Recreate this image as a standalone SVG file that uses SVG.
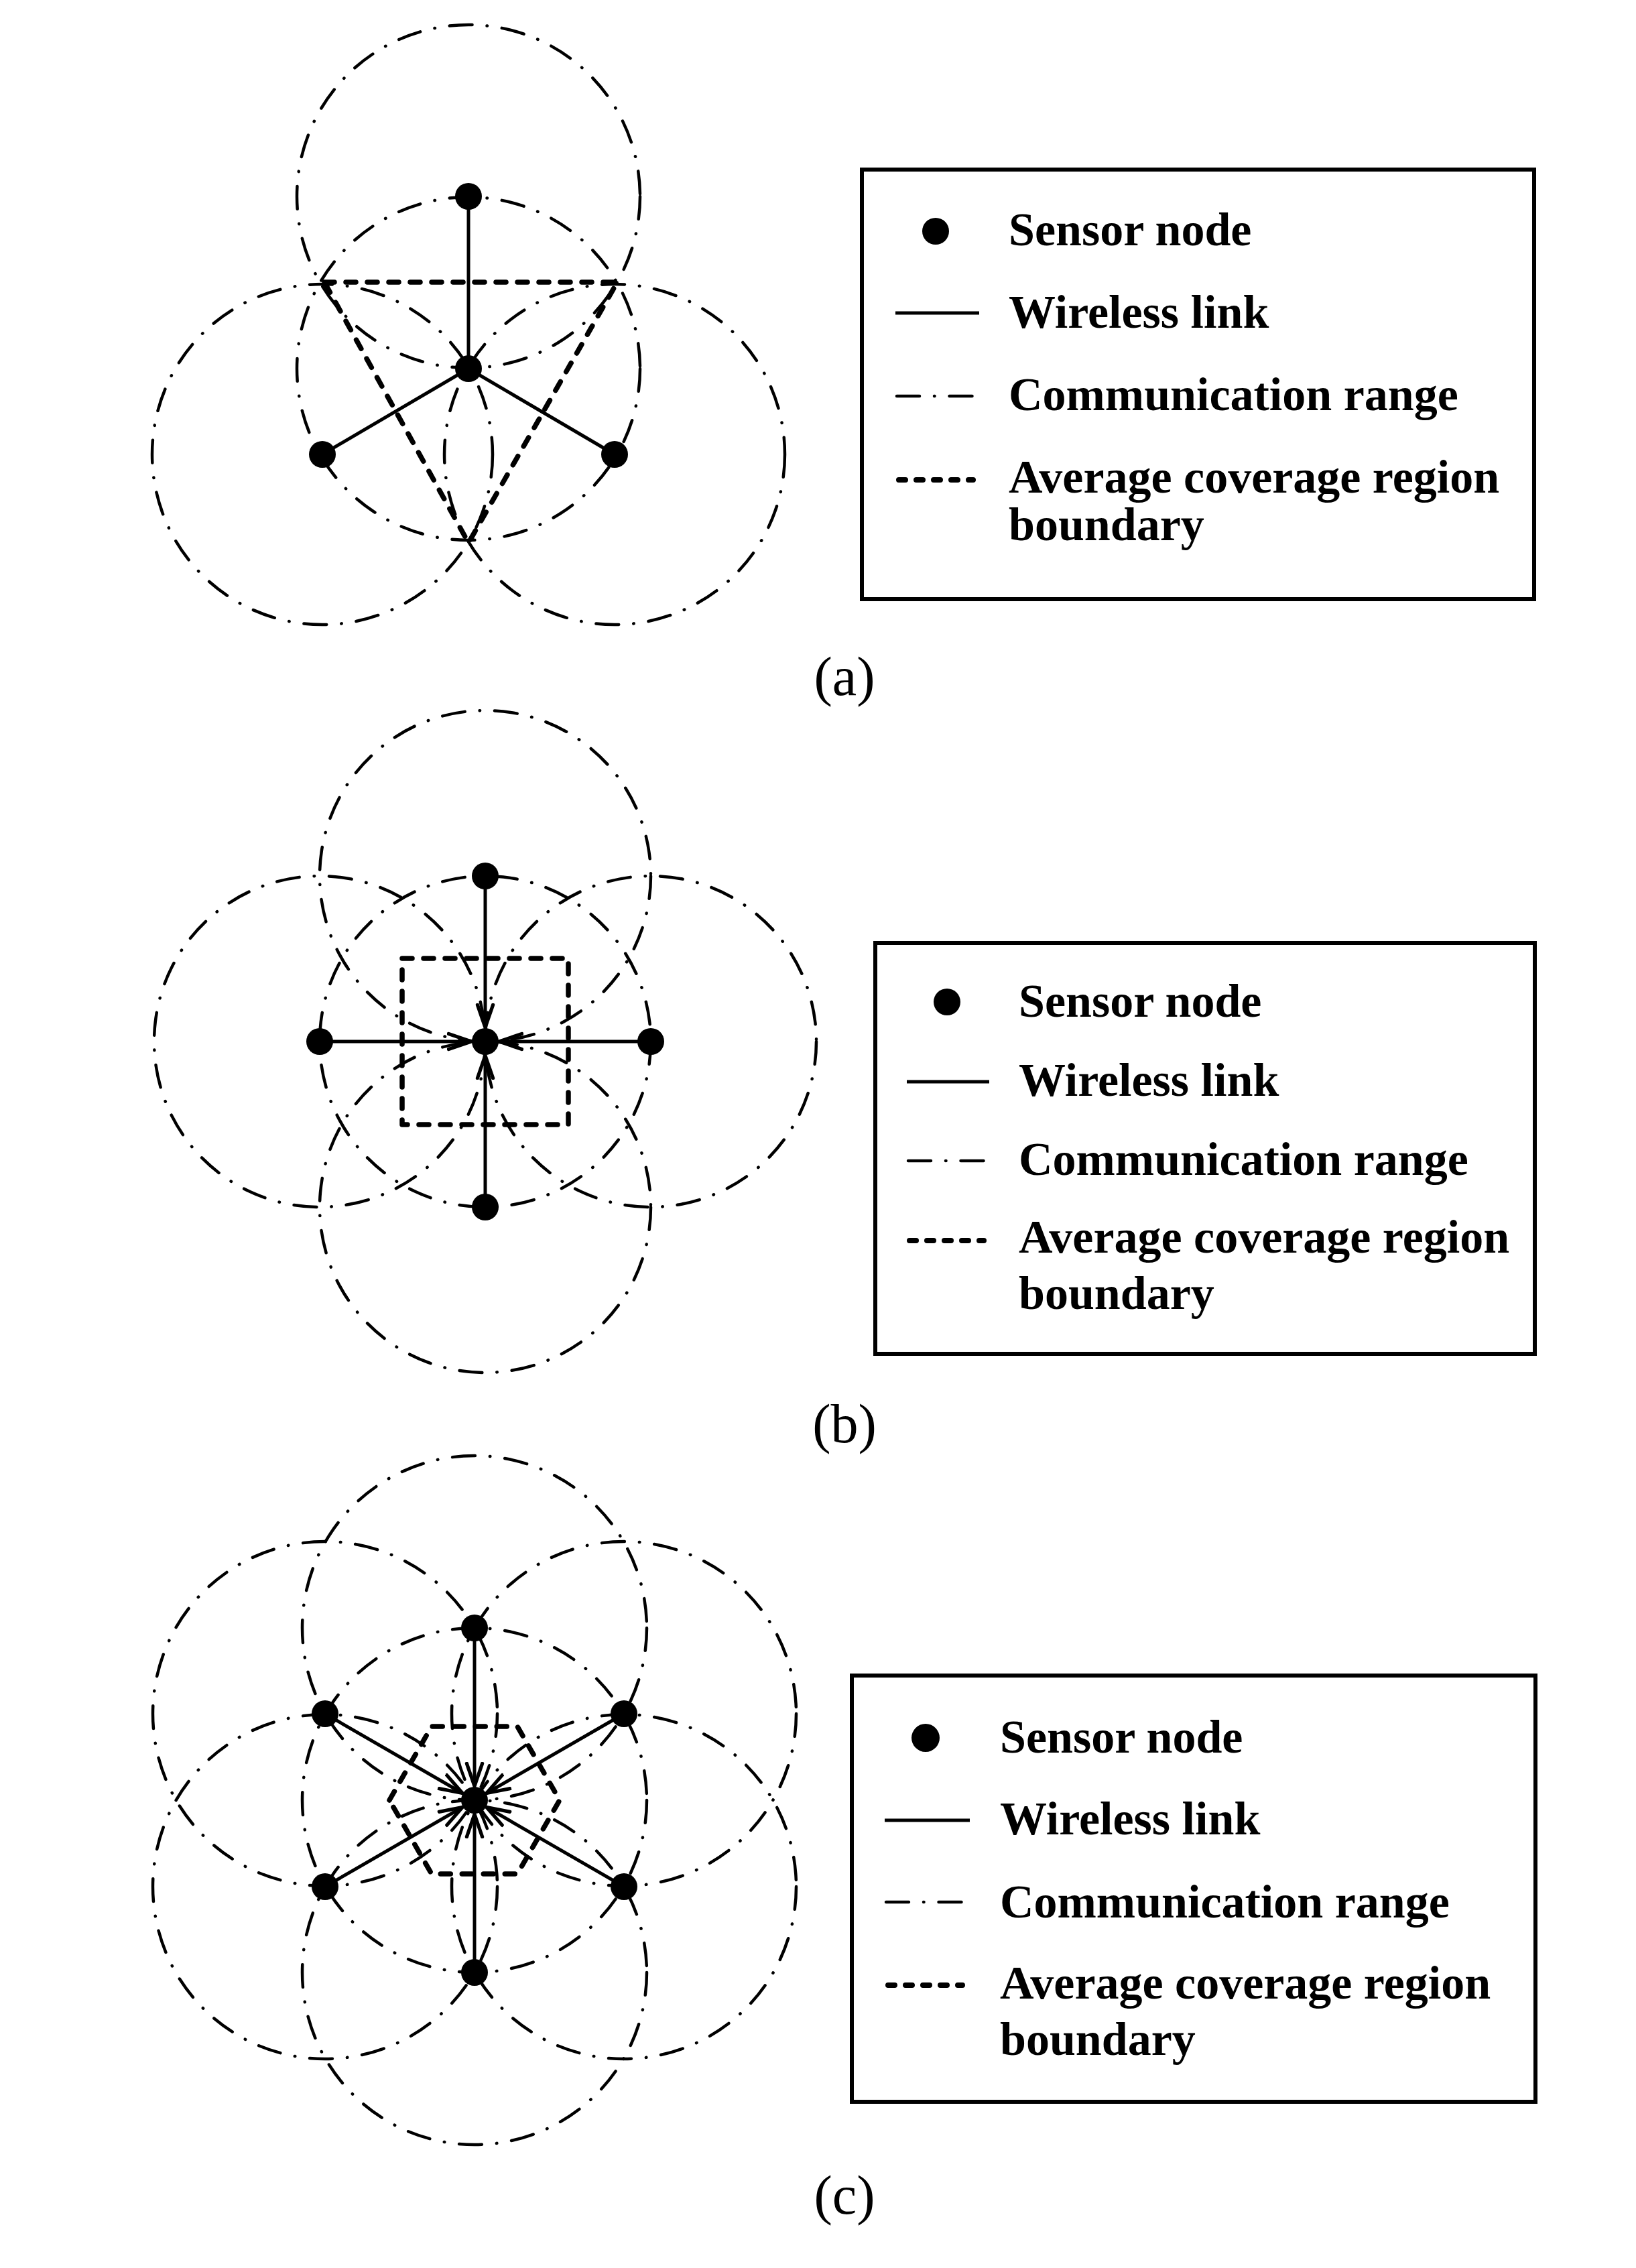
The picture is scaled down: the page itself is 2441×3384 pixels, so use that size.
<svg xmlns="http://www.w3.org/2000/svg" width="2441" height="3384" viewBox="0 0 2441 3384">
<style>
.rng{fill:none;stroke:#000;stroke-width:4.5;stroke-linecap:round;stroke-dasharray:34 22 0.5 22}
.lnk{fill:none;stroke:#000;stroke-width:5}
.bnd{fill:none;stroke:#000;stroke-width:7.5;stroke-linecap:round;stroke-linejoin:round;stroke-dasharray:15 17}
.dot{fill:#000}
.box{fill:none;stroke:#000;stroke-width:6}
.lt{font-family:"Liberation Serif","Times New Roman",serif;font-weight:bold;font-size:70px;fill:#000}
.cap{font-family:"Liberation Serif","Times New Roman",serif;font-size:82px;fill:#000;text-anchor:middle}
.ldot{fill:none;stroke:#000;stroke-width:8;stroke-linecap:round;stroke-dasharray:10 16}
</style>
<defs>
<marker id="arr" markerUnits="userSpaceOnUse" markerWidth="40" markerHeight="30" viewBox="-34 -14 38 28" refX="0" refY="0" orient="auto">
<path d="M-32,-11 L0,0 L-32,11" fill="none" stroke="#000" stroke-width="5" stroke-linecap="round"/>
</marker>
</defs>
<rect width="2441" height="3384" fill="#fff"/>

<!-- Panel (a) -->
<g id="ranges-a">
<circle class="rng" cx="699" cy="293" r="256"/>
<circle class="rng" cx="699" cy="550" r="256"/>
<circle class="rng" cx="481" cy="678" r="254"/>
<circle class="rng" cx="917" cy="678" r="254"/>
</g>
<g id="boundary-a"><polygon class="bnd" points="484,421 921,421 699,810"/></g>
<g id="links-a">
<line class="lnk" x1="699" y1="293" x2="699" y2="550"/>
<line class="lnk" x1="481" y1="678" x2="699" y2="550"/>
<line class="lnk" x1="917" y1="678" x2="699" y2="550"/>
</g>
<g id="nodes-a">
<circle class="dot" cx="699" cy="293" r="20"/>
<circle class="dot" cx="699" cy="550" r="20"/>
<circle class="dot" cx="481" cy="678" r="20"/>
<circle class="dot" cx="917" cy="678" r="20"/>
</g>
<g id="legend-a">
<rect class="box" x="1286" y="253" width="1003" height="641"/>
<circle class="dot" cx="1396" cy="345" r="20"/>
<text class="lt" x="1505" y="366">Sensor node</text>
<line class="lnk" x1="1336" y1="467" x2="1461" y2="467"/>
<text class="lt" x="1505" y="489">Wireless link</text>
<line class="rng" x1="1338" y1="591" x2="1461" y2="591" style="stroke-dasharray:34 22 0.5 22"/>
<text class="lt" x="1505" y="612">Communication range</text>
<line class="ldot" x1="1341" y1="716" x2="1452" y2="716"/>
<text class="lt" x="1505" y="735">Average coverage region</text>
<text class="lt" x="1505" y="806">boundary</text>
</g>
<text class="cap" x="1260" y="1037">(a)</text>

<!-- Panel (b) -->
<g id="ranges-b">
<circle class="rng" cx="724" cy="1307" r="247"/>
<circle class="rng" cx="724" cy="1801" r="247"/>
<circle class="rng" cx="477" cy="1554" r="247"/>
<circle class="rng" cx="971" cy="1554" r="247"/>
<circle class="rng" cx="724" cy="1554" r="247"/>
</g>
<g id="boundary-b"><rect class="bnd" x="600" y="1430" width="248" height="248"/></g>
<g id="links-b">
<line class="lnk" x1="724" y1="1307" x2="724" y2="1533" marker-end="url(#arr)"/>
<line class="lnk" x1="724" y1="1801" x2="724" y2="1575" marker-end="url(#arr)"/>
<line class="lnk" x1="477" y1="1554" x2="703" y2="1554" marker-end="url(#arr)"/>
<line class="lnk" x1="971" y1="1554" x2="745" y2="1554" marker-end="url(#arr)"/>
</g>
<g id="nodes-b">
<circle class="dot" cx="724" cy="1554" r="20"/>
<circle class="dot" cx="724" cy="1307" r="20"/>
<circle class="dot" cx="724" cy="1801" r="20"/>
<circle class="dot" cx="477" cy="1554" r="20"/>
<circle class="dot" cx="971" cy="1554" r="20"/>
</g>
<g id="legend-b">
<rect class="box" x="1306" y="1407" width="984" height="613"/>
<circle class="dot" cx="1413" cy="1495" r="20"/>
<text class="lt" x="1520" y="1517">Sensor node</text>
<line class="lnk" x1="1353" y1="1614" x2="1476" y2="1614"/>
<text class="lt" x="1520" y="1635">Wireless link</text>
<line class="rng" x1="1355" y1="1732" x2="1476" y2="1732"/>
<text class="lt" x="1520" y="1753">Communication range</text>
<line class="ldot" x1="1357" y1="1851" x2="1468" y2="1851"/>
<text class="lt" x="1520" y="1869">Average coverage region</text>
<text class="lt" x="1520" y="1953">boundary</text>
</g>
<text class="cap" x="1260" y="2152">(b)</text>

<!-- Panel (c) -->
<g id="ranges-c">
<circle class="rng" cx="708" cy="2686" r="257"/>
<circle class="rng" cx="708" cy="2429" r="257"/>
<circle class="rng" cx="708" cy="2943" r="257"/>
<circle class="rng" cx="485" cy="2557" r="257"/>
<circle class="rng" cx="931" cy="2557" r="257"/>
<circle class="rng" cx="485" cy="2815" r="257"/>
<circle class="rng" cx="931" cy="2815" r="257"/>
</g>
<g id="boundary-c"><polygon class="bnd" points="581,2686 644,2576 772,2576 835,2686 772,2796 644,2796"/></g>
<g id="links-c">
<line class="lnk" x1="708" y1="2429" x2="708" y2="2665" marker-end="url(#arr)"/>
<line class="lnk" x1="708" y1="2943" x2="708" y2="2707" marker-end="url(#arr)"/>
<line class="lnk" x1="485" y1="2557" x2="690" y2="2675.5" marker-end="url(#arr)"/>
<line class="lnk" x1="931" y1="2557" x2="726" y2="2675.5" marker-end="url(#arr)"/>
<line class="lnk" x1="485" y1="2815" x2="690" y2="2696.5" marker-end="url(#arr)"/>
<line class="lnk" x1="931" y1="2815" x2="726" y2="2696.5" marker-end="url(#arr)"/>
</g>
<g id="nodes-c">
<circle class="dot" cx="708" cy="2686" r="20"/>
<circle class="dot" cx="708" cy="2429" r="20"/>
<circle class="dot" cx="708" cy="2943" r="20"/>
<circle class="dot" cx="485" cy="2557" r="20"/>
<circle class="dot" cx="931" cy="2557" r="20"/>
<circle class="dot" cx="485" cy="2815" r="20"/>
<circle class="dot" cx="931" cy="2815" r="20"/>
</g>
<g id="legend-c">
<rect class="box" x="1271" y="2500" width="1020" height="636"/>
<circle class="dot" cx="1381" cy="2593" r="21"/>
<text class="lt" x="1492" y="2615">Sensor node</text>
<line class="lnk" x1="1320" y1="2716" x2="1447" y2="2716"/>
<text class="lt" x="1492" y="2737">Wireless link</text>
<line class="rng" x1="1322" y1="2838" x2="1447" y2="2838"/>
<text class="lt" x="1492" y="2861">Communication range</text>
<line class="ldot" x1="1325" y1="2962" x2="1436" y2="2962"/>
<text class="lt" x="1492" y="2982">Average coverage region</text>
<text class="lt" x="1492" y="3066">boundary</text>
</g>
<text class="cap" x="1260" y="3303">(c)</text>
</svg>
